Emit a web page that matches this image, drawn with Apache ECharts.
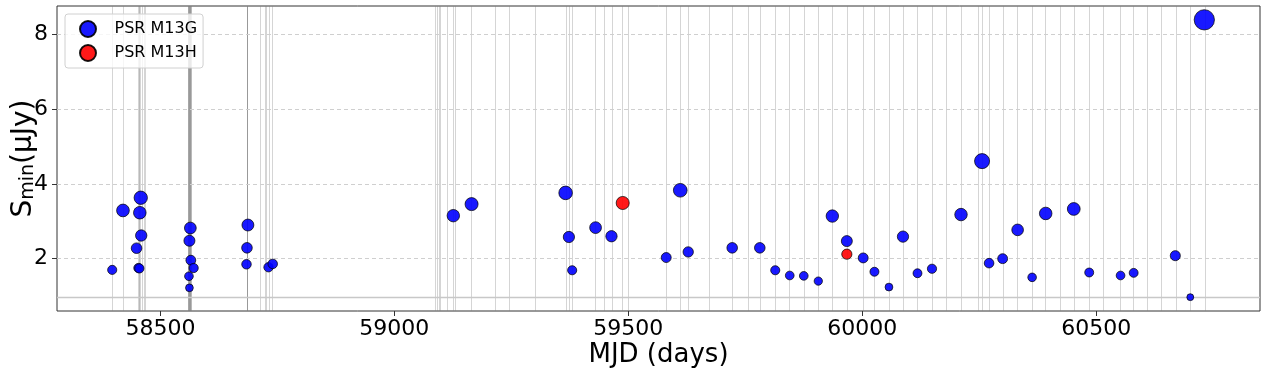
<!DOCTYPE html>
<html><head><meta charset="utf-8">
<script src="https://cdn.jsdelivr.net/npm/echarts@6/dist/echarts.min.js"></script>
<style>html,body{margin:0;padding:0;background:#fff}#c{width:1267px;height:375px}</style>
</head><body><div id="c"></div>
<script>
// PSR M13G detections
const g_mjd = [58397,58420,58458,58456,58459,58449,58453,58455,58564,58562,58565,58571,58561,58562,58687,58685,58684,58731,58740,59126,59165,59366,59373,59380,59430,59464,59581,59611,59628,59722,59781,59814,59845,59875,59906,59936,59967,60002,60026,60057,60087,60118,60149,60211,60256,60271,60300,60332,60363,60392,60452,60485,60552,60580,60669,60701,60731];
const g_smin = [1.70,3.29,3.63,3.23,2.62,2.28,1.75,1.74,2.82,2.48,1.96,1.75,1.53,1.22,2.90,2.29,1.85,1.77,1.86,3.15,3.46,3.76,2.58,1.69,2.83,2.60,2.03,3.83,2.18,2.29,2.29,1.69,1.55,1.54,1.40,3.14,2.47,2.02,1.65,1.24,2.59,1.61,1.73,3.18,4.61,1.88,2.00,2.77,1.50,3.21,3.33,1.63,1.55,1.62,2.08,0.97,8.39];
// PSR M13H detections
const h_mjd = [59488, 59967];
const h_smin = [3.49, 2.12];
// observation epochs (vertical lines)
const obs_mjd = [58397,58420,58453,58455,58455,58457,58461,58465,58468,
  58559,58560,58560,58561,58561,58562,58562,58563,58563,58564,58564,58565,58566,
  58685,58685,58685,58685,
  58713,58723,58727,58732,58740,
  59088,59091,59095,59098,59112,59126,59130,59165,59216,59245,59301,
  59368,59373,59380,59430,59448,59465,59488,59499,
  59581,59611,59628,59673,59722,59756,59781,59814,59845,59875,59906,59936,59967,
  60002,60026,60057,60087,60118,60149,60180,60211,60248,60256,60271,60301,60332,60363,60392,60423,60452,60485,60514,60552,60580,60608,60640,60670,60701,60732];
const threshold = [0.97];
const xTicks = [58500, 59000, 59500, 60000, 60500];
const yTicks = [2, 4, 6, 8];

const FONT = 'DejaVu Sans';
const chart = echarts.init(document.getElementById('c'), null, {renderer: 'canvas'});
const sizeFn = v => 7 * Math.sqrt(v[1]);
const ml = (data, lineStyle) => ({
  silent: true, symbol: ['none', 'none'], label: {show: false}, animation: false, z: 1, zlevel: 0,
  lineStyle: lineStyle, emphasis: {disabled: true}, data: data
});
chart.setOption({
  animation: false,
  grid: {left: 57, right: 7, top: 6, bottom: 64, outerBoundsMode: 'none', containLabel: false,
         show: true, borderColor: '#333', borderWidth: 1, backgroundColor: 'transparent', z: 0},
  legend: {
    left: 65, top: 14, orient: 'vertical', z: 10,
    data: [{name: 'PSR M13G', icon: 'circle'}, {name: 'PSR M13H', icon: 'circle'}],
    itemWidth: 43, itemHeight: 16, itemGap: 6,
    padding: [6, 6, 6, 14],
    borderColor: '#d0d0d0', borderWidth: 1, borderRadius: 3,
    backgroundColor: 'rgba(255,255,255,0.8)',
    textStyle: {fontSize: 16, fontFamily: FONT, color: '#000'}
  },
  xAxis: {
    type: 'value', min: 58279, max: 60850,
    axisLine: {show: false},
    axisTick: {show: true, customValues: xTicks, length: 5, lineStyle: {color: '#333'}},
    axisLabel: {customValues: xTicks, formatter: v => String(v), fontSize: 22, fontFamily: FONT, color: '#000', margin: 7},
    splitLine: {show: false},
    name: 'MJD (days)', nameLocation: 'middle', nameGap: 31, nameMoveOverlap: false,
    nameTextStyle: {fontSize: 26, fontFamily: FONT, color: '#000'}
  },
  yAxis: {
    type: 'value', min: 0.6, max: 8.76,
    axisLine: {show: false},
    axisTick: {show: true, customValues: yTicks, length: 5, lineStyle: {color: '#333'}},
    axisLabel: {customValues: yTicks, formatter: v => String(v), fontSize: 22, fontFamily: FONT, color: '#000', margin: 9},
    splitLine: {show: false},
    name: '{s|S}{sub|min}{p|(μJy)}', nameLocation: 'middle', nameGap: 19, nameRotate: 90, nameMoveOverlap: false,
    nameTextStyle: {
      fontFamily: FONT, color: '#000',
      rich: {
        s: {fontSize: 28, fontFamily: FONT, color: '#000', verticalAlign: 'bottom', lineHeight: 30},
        sub: {fontSize: 19, fontFamily: FONT, color: '#000', verticalAlign: 'bottom', lineHeight: 14},
        p: {fontSize: 28, fontFamily: FONT, color: '#000', verticalAlign: 'bottom', lineHeight: 30}
      }
    }
  },
  series: [
    {
      name: 'obs', type: 'scatter', data: [], z: 1, silent: true,
      markLine: ml(obs_mjd.map(v => ({xAxis: v})), {color: '#808080', opacity: 0.33, width: 1, type: 'solid'})
    },
    {
      name: 'grid', type: 'scatter', data: [], z: 1, silent: true,
      markLine: ml(yTicks.map(v => ({yAxis: v})), {color: '#cfcfcf', width: 1, type: [4, 3]})
    },
    {
      name: 'thr', type: 'scatter', data: [], z: 1, silent: true,
      markLine: ml(threshold.map(v => ({yAxis: v})), {color: '#c8c8c8', width: 1.3, type: 'solid'})
    },
    {
      name: 'PSR M13G', type: 'scatter', z: 3,
      data: g_mjd.map((x, i) => [x, g_smin[i]]),
      symbolSize: sizeFn,
      itemStyle: {color: '#0000ff', opacity: 0.9, borderColor: '#000', borderWidth: 0.8}
    },
    {
      name: 'PSR M13H', type: 'scatter', z: 4,
      data: h_mjd.map((x, i) => [x, h_smin[i]]),
      symbolSize: sizeFn,
      itemStyle: {color: '#ff0000', opacity: 0.9, borderColor: '#000', borderWidth: 0.8}
    }
  ]
});
</script>
</body></html>
